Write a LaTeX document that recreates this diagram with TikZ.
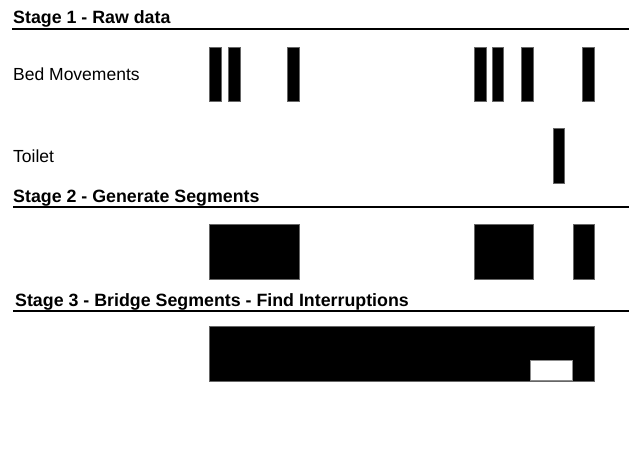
\documentclass[tikz,border=0pt]{standalone}
\usepackage{fontspec}
\setmainfont{Liberation Sans}
\begin{document}
\begin{tikzpicture}[x=1pt,y=-1pt,
  heading/.style={anchor=base west,inner sep=0pt,font=\fontsize{17.8}{20}\selectfont\bfseries},
  rowlabel/.style={anchor=base west,inner sep=0pt,font=\fontsize{17.5}{20}\selectfont},
  rule/.style={line width=2pt},
  event/.style={fill=black,draw=black!60,line width=0.4pt},
  gap/.style={fill=white,draw=black!45,line width=0.6pt}]
\useasboundingbox (0,0) rectangle (631,451);

% Stage 1: raw sensor events
\node[heading] (s1) at (13,23) {Stage 1 - Raw data};
\draw[rule] (12,29) -- (629,29);
\node[rowlabel] (bed) at (13,80) {Bed Movements};
\foreach \a/\b in {209/221,228/240,287/299,474/486,492/503,521/533,582/594}
  \draw[event] (\a,47) rectangle (\b,101);
\node[rowlabel] (toilet) at (13,162) {Toilet};
\draw[event] (553,128) rectangle (564,183);

% Stage 2: segments
\node[heading] (s2) at (13,202) {Stage 2 - Generate Segments};
\draw[rule] (13,207) -- (629,207);
\foreach \a/\b in {209/299,474/533,573/594}
  \draw[event] (\a,224) rectangle (\b,279);

% Stage 3: bridged segment with an interruption
\node[heading] (s3) at (15,306) {Stage 3 - Bridge Segments - Find Interruptions};
\draw[rule] (13,311) -- (629,311);
\draw[event] (209,326) rectangle (594,381);
\draw[gap] (530,360) rectangle (572,380);
\end{tikzpicture}
\end{document}
